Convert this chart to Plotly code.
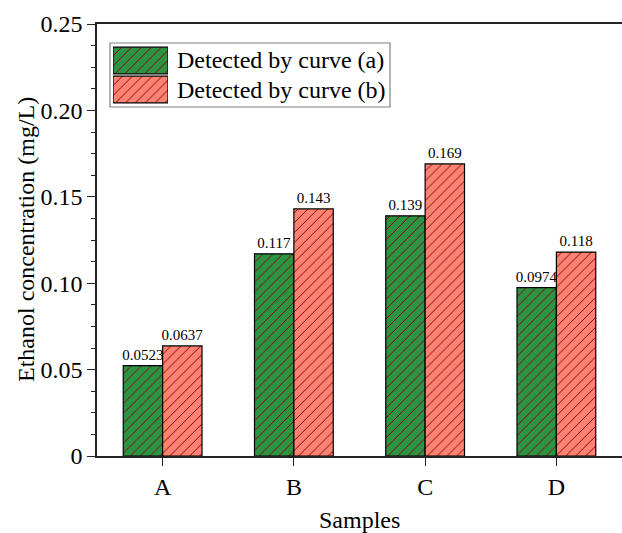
import plotly.graph_objects as go

# ---- data ----
categories = ["A", "B", "C", "D"]
series_names = ["Detected by curve (a)", "Detected by curve (b)"]
values_a = [0.0523, 0.117, 0.139, 0.0974]
values_b = [0.0637, 0.143, 0.169, 0.118]
labels_a = ["0.0523", "0.117", "0.139", "0.0974"]
labels_b = ["0.0637", "0.143", "0.169", "0.118"]
y_tickvals = [0, 0.05, 0.10, 0.15, 0.20, 0.25]
y_ticktext = ["0", "0.05", "0.10", "0.15", "0.20", "0.25"]

# ---- style ----
W, H = 622, 533
L, R, T, B = 97, 0, 24, 77
PW, PH = W - L - R, H - T - B
FONT = "Liberation Serif"
GREEN = "#2b9443"
SALMON = "#fc8374"
HATCH = "#8b0000"
AXIS = "#222222"
COLORS = [GREEN, SALMON]


def px(xp):
    return (xp - L) / PW


def py(yp):
    return (H - B - yp) / PH


def pattern(col):
    return dict(shape="/", fgcolor=HATCH, bgcolor=col,
                size=7, solidity=0.14, fillmode="replace")


fig = go.Figure()
for name, vals, labs, col in [
    (series_names[0], values_a, labels_a, GREEN),
    (series_names[1], values_b, labels_b, SALMON),
]:
    fig.add_trace(go.Bar(
        x=categories, y=vals, name=name,
        text=labs, texttemplate="%{text}", textposition="outside",
        textfont=dict(family=FONT, size=15, color="black"),
        constraintext="none", cliponaxis=False,
        marker=dict(color=col, line=dict(color="black", width=1.2),
                    pattern=pattern(col)),
        showlegend=False,
    ))

# legend swatches drawn as a tiny inset bar chart
for i, col in enumerate(COLORS):
    fig.add_trace(go.Bar(
        x=[1], y=[i], base=[0], orientation="h", width=[0.92], offset=-0.46,
        xaxis="x2", yaxis="y2", showlegend=False, hoverinfo="skip",
        marker=dict(color=col, line=dict(color="black", width=1.2),
                    pattern=pattern(col)),
    ))

annotations = [
    dict(text=series_names[0], x=px(175), y=py(60), xref="paper", yref="paper",
         xanchor="left", yanchor="middle", showarrow=False,
         font=dict(family=FONT, size=24, color="black")),
    dict(text=series_names[1], x=px(175), y=py(90), xref="paper", yref="paper",
         xanchor="left", yanchor="middle", showarrow=False,
         font=dict(family=FONT, size=24, color="black")),
    dict(text="Ethanol concentration (mg/L)", x=px(26), y=py(240),
         xref="paper", yref="paper", textangle=-90,
         xanchor="center", yanchor="middle", showarrow=False,
         font=dict(family=FONT, size=24, color="black")),
    dict(text="Samples", x=px(359), y=py(520), xref="paper", yref="paper",
         xanchor="center", yanchor="middle", showarrow=False,
         font=dict(family=FONT, size=24, color="black")),
]

shapes = [
    dict(type="rect", xref="paper", yref="paper",
         x0=px(110), x1=px(390), y0=py(107), y1=py(43),
         line=dict(color="#808080", width=1.2), fillcolor="rgba(0,0,0,0)",
         layer="below"),
]

fig.update_layout(
    width=W, height=H,
    margin=dict(l=L, r=R, t=T, b=B, pad=0),
    paper_bgcolor="white", plot_bgcolor="white",
    barmode="group", bargap=0.4, bargroupgap=0,
    font=dict(family=FONT, size=24, color="black"),
    annotations=annotations, shapes=shapes,
    xaxis=dict(
        range=[-0.5, 3.5], showgrid=False, zeroline=False,
        showline=True, linecolor=AXIS, linewidth=1.5, mirror=True,
        ticks="outside", ticklen=8, tickwidth=1.3, tickcolor=AXIS,
        tickfont=dict(family=FONT, size=24, color="black"),
    ),
    yaxis=dict(
        range=[0, 0.25], showgrid=False, zeroline=False,
        showline=True, linecolor=AXIS, linewidth=1.5,
        tickvals=y_tickvals, ticktext=y_ticktext,
        ticks="outside", ticklen=8, tickwidth=1.3, tickcolor=AXIS,
        tickfont=dict(family=FONT, size=24, color="black"),
        minor=dict(dtick=0.0125, ticks="outside", ticklen=4,
                   tickwidth=1.3, tickcolor=AXIS, showgrid=False),
    ),
    xaxis2=dict(domain=[px(113), px(168)], range=[0, 1], visible=False,
                anchor="y2", fixedrange=True),
    yaxis2=dict(domain=[py(104), py(46)], range=[1.5, -0.5], visible=False,
                anchor="x2", fixedrange=True),
)

fig.write_html("out.html")
